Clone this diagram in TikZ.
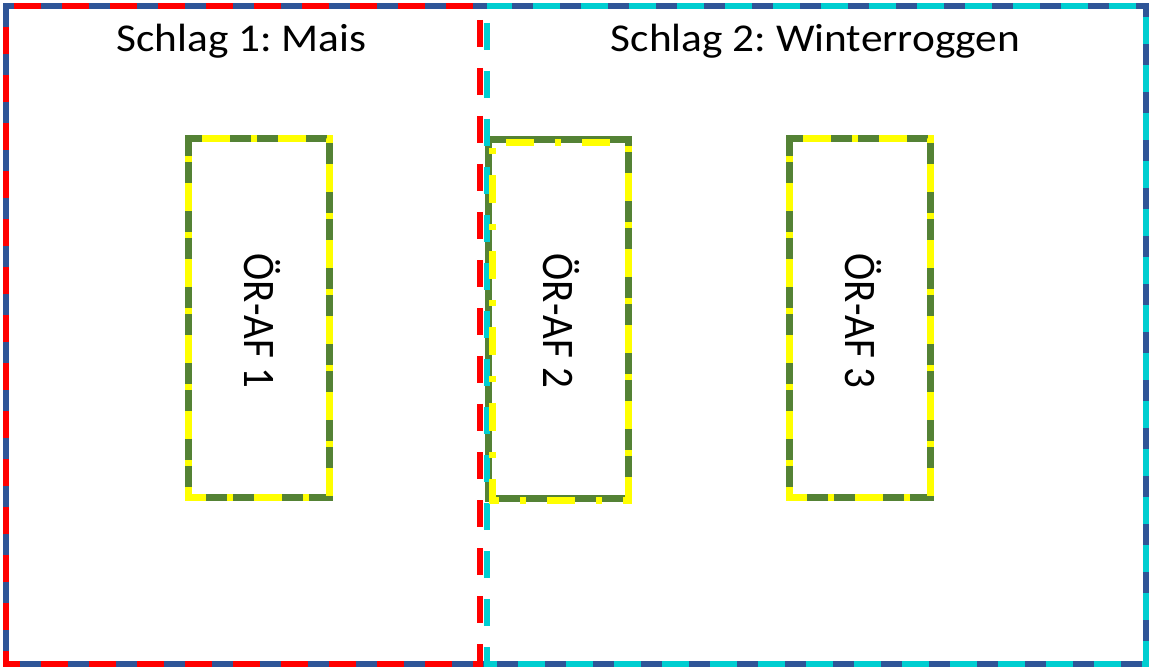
\documentclass[tikz,border=0pt]{standalone}
\usepackage{fontspec}
\setmainfont{Carlito}
\usepackage{graphicx}
\frenchspacing
\definecolor{fblue}{RGB}{47,85,151}
\definecolor{fred}{RGB}{255,0,0}
\definecolor{fcyan}{RGB}{0,206,209}
\definecolor{fgreen}{RGB}{84,130,53}
\definecolor{fyellow}{RGB}{255,255,0}
\newcommand{\vlabel}[1]{\scalebox{1.1}[1]{\rotatebox{-90}{\raisebox{0pt}[0.632em][0pt]{#1}}}}
\begin{document}
\begin{tikzpicture}[x=1pt,y=-1pt,
  outerline/.style={draw=fblue, line width=6.5pt},
  redline/.style={draw=fred, line width=6.5pt, dash pattern=on 27pt off 21pt, dash phase=40pt},
  cyanline/.style={draw=fcyan, line width=6.5pt, dash pattern=on 27pt off 21pt, dash phase=31pt},
  greenline/.style={draw=fgreen, line width=7pt},
  yellowline/.style={draw=fyellow, line width=7pt, dash pattern=on 28pt off 21pt on 6pt off 21pt, dash phase=62pt},
  titletext/.style={anchor=base, inner sep=0pt, font=\fontsize{39.4}{47}\selectfont},
  boxtext/.style={inner sep=0pt, font=\fontsize{41}{49}\selectfont}]
\useasboundingbox (0,0) rectangle (1152,668);
\fill[white] (0,0) rectangle (1152,668);
% outer field border (blue base)
\draw[outerline] (6,6) rectangle (1146,664);
% box outlines (green base)
\draw[greenline] (188,139) -- (329,139) -- (329,497) -- (188,497) -- cycle;
\draw[greenline] (488,140) -- (628,140) -- (628,498) -- (488,498) -- cycle;
\draw[greenline] (789,139) -- (930,139) -- (930,497) -- (789,497) -- cycle;
% field 1 and field 2
\draw[redline] (6,6) -- (480,6) -- (480,664) -- (6,664) -- cycle;
\draw[cyanline] (487,6) -- (487,664) -- (1146,664) -- (1146,6) -- cycle;
% yellow dash-dot on the boxes
\draw[yellowline] (188,139) -- (329,139) -- (329,497) -- (188,497) -- cycle;
\draw[yellowline] (492,143) -- (628,143) -- (628,500) -- (492,500) -- cycle;
\draw[yellowline] (789,139) -- (930,139) -- (930,497) -- (789,497) -- cycle;
% titles
\node[titletext] (s1) at (241.5,52) {\scalebox{1.1}[1]{Schlag 1: Mais}};
\node[titletext] (s2) at (815.5,52) {\scalebox{1.1}[1]{Schlag 2: Winterroggen}};
% box labels
\node[boxtext] (a1) at (258.5,321) {\vlabel{ÖR-AF 1}};
\node[boxtext] (a2) at (557.5,321) {\vlabel{ÖR-AF 2}};
\node[boxtext] (a3) at (859.5,321) {\vlabel{ÖR-AF 3}};
\end{tikzpicture}
\end{document}
